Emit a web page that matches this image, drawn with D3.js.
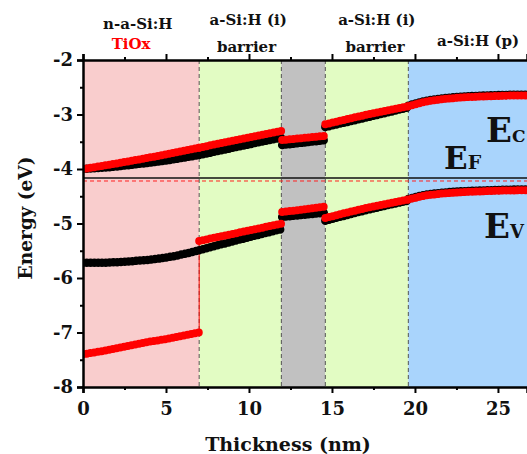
<!DOCTYPE html>
<html><head><meta charset="utf-8">
<script src="https://cdn.jsdelivr.net/npm/d3@7"></script>
<style>
body{margin:0;background:#fff}
svg{display:block}
text{font-family:"DejaVu Serif",serif;font-weight:bold}
</style>
</head><body>
<svg id="c" width="527" height="454"></svg>
<script>
// ---------- data ----------
const xTicks = [0, 5, 10, 15, 20, 25];
const yTicks = [-2, -3, -4, -5, -6, -7, -8];
const regionBounds = [0, 7, 11.95, 14.6, 19.6, 26.8];
const regionColors = ["#f9cdcd", "#e2fcc3", "#c1c1c1", "#e2fcc3", "#a9d4fc"];
const topLabels = [
  {text: "n-a-Si:H", x: 3.3, line: 0, color: "#111"},
  {text: "TiOx", x: 2.9, line: 1, color: "#ff0000"},
  {text: "a-Si:H (i)", x: 9.95, line: 2, color: "#111"},
  {text: "barrier", x: 9.85, line: 3, color: "#111"},
  {text: "a-Si:H (i)", x: 17.7, line: 2, color: "#111"},
  {text: "barrier", x: 17.6, line: 3, color: "#111"},
  {text: "a-Si:H (p)", x: 23.8, line: 4, color: "#111"}
];
const fermiBlack = -4.165;
const fermiRed = -4.22;

// Conduction band, black (one array per layer)
const ecBlack = [
  [[0,-4.0],[1,-3.98],[2,-3.955],[3,-3.92],[4,-3.885],[5,-3.845],[6,-3.795],[7,-3.745]],
  [[7,-3.745],[9.5,-3.58],[12,-3.42]],
  [[12,-3.56],[14.6,-3.47]],
  [[14.6,-3.23],[17,-3.06],[19.6,-2.87]],
  [[19.6,-2.84],[20.5,-2.76],[21.5,-2.71],[22.5,-2.68],[24,-2.655],[25.5,-2.64],[26.8,-2.635]]
];
// Conduction band, red
const ecRed = [
  [[0,-4.0],[1,-3.95],[2,-3.9],[3,-3.845],[4,-3.79],[5,-3.73],[6,-3.67],[7,-3.61]],
  [[7,-3.61],[9.5,-3.45],[12,-3.3]],
  [[12,-3.47],[14.6,-3.39]],
  [[14.6,-3.18],[17,-3.01],[19.6,-2.85]],
  [[19.6,-2.85],[20.5,-2.775],[21.5,-2.725],[22.5,-2.695],[24,-2.67],[25.5,-2.655],[26.8,-2.65]]
];
// Valence band, black
const evBlack = [
  [[0,-5.72],[1,-5.72],[2,-5.71],[3,-5.69],[4,-5.665],[5,-5.625],[6,-5.565],[7,-5.49]],
  [[7,-5.49],[9.5,-5.29],[12,-5.1]],
  [[12,-4.88],[14.6,-4.8]],
  [[14.6,-4.95],[17,-4.76],[19.6,-4.58]],
  [[19.6,-4.55],[20.5,-4.48],[21.5,-4.44],[22.5,-4.415],[24,-4.395],[25.5,-4.38],[26.8,-4.375]]
];
// Valence band, red
const evRed = [
  [[0,-7.4],[1,-7.35],[2,-7.29],[3,-7.23],[4,-7.17],[5,-7.12],[6,-7.06],[7,-7.0]],
  [[7,-5.32],[9.5,-5.16],[12,-5.0]],
  [[12,-4.79],[14.6,-4.69]],
  [[14.6,-4.9],[17,-4.72],[19.6,-4.56]],
  [[19.6,-4.56],[20.5,-4.495],[21.5,-4.455],[22.5,-4.43],[24,-4.41],[25.5,-4.395],[26.8,-4.39]]
];
// red vertical jump at the TiOx interface
const evRedJump = [[7,-7.0],[7,-5.32]];

// ---------- drawing ----------
const svg = d3.select("#c");
const L = 83, R = 527, T = 60, B = 387;
const x = d3.scaleLinear().domain([0, 26.75]).range([L, R]);
const y = d3.scaleLinear().domain([-8, -2]).range([B, T]);

svg.append("defs").append("clipPath").attr("id","clip")
  .append("rect").attr("x",L).attr("y",T).attr("width",R-L).attr("height",B-T);

const g = svg.append("g").attr("clip-path","url(#clip)");
regionColors.forEach((c,i)=>{
  g.append("rect")
    .attr("x", x(regionBounds[i])).attr("y", T)
    .attr("width", x(regionBounds[i+1]) - x(regionBounds[i]))
    .attr("height", B - T).attr("fill", c);
});
regionBounds.slice(1,5).forEach(b=>{
  g.append("line").attr("x1",x(b)).attr("x2",x(b)).attr("y1",T).attr("y2",B)
    .attr("stroke","#444").attr("stroke-width",0.9).attr("stroke-dasharray","4,3");
});

g.append("line").attr("x1",L).attr("x2",R).attr("y1",y(fermiBlack)).attr("y2",y(fermiBlack))
  .attr("stroke","#111").attr("stroke-width",1.6);
g.append("line").attr("x1",L).attr("x2",R).attr("y1",y(fermiRed)).attr("y2",y(fermiRed))
  .attr("stroke","#ff2020").attr("stroke-width",1).attr("stroke-dasharray","4,3");

const line = d3.line().x(d=>x(d[0])).y(d=>y(d[1])).curve(d3.curveMonotoneX);

function drawSeries(segs, color, w){
  segs.forEach(s=>{
    g.append("path").attr("d", line(s)).attr("fill","none")
      .attr("stroke", color).attr("stroke-width", w)
      .attr("stroke-linecap","round").attr("stroke-dasharray","0,3.8");
  });
}
g.append("path").attr("d", d3.line().x(d=>x(d[0])).y(d=>y(d[1]))(evRedJump))
  .attr("stroke","#ff0000").attr("stroke-width",1).attr("fill","none");

drawSeries(ecBlack, "#000", 8.5);
drawSeries(evBlack, "#000", 8.5);
drawSeries(ecRed, "#ff0000", 8);
drawSeries(evRed, "#ff0000", 8);

// axes
const minorX = d3.range(0, 27, 2.5).filter(v=>v%5!==0);
const minorY = d3.range(-8, -1.9, 0.5).filter(v=>v%1!==0);

const axB = svg.append("g").attr("transform",`translate(0,${B})`)
  .call(d3.axisBottom(x).tickValues(xTicks).tickSize(6).tickFormat(d3.format("d")));
svg.append("g").attr("transform",`translate(0,${B})`)
  .call(d3.axisBottom(x).tickValues(minorX).tickSize(3).tickFormat(""))
  .call(a=>a.select(".domain").remove());
svg.append("g").attr("transform",`translate(0,${T})`)
  .call(d3.axisTop(x).tickValues(xTicks).tickSize(6).tickFormat(""));
svg.append("g").attr("transform",`translate(0,${T})`)
  .call(d3.axisTop(x).tickValues(minorX).tickSize(3).tickFormat(""))
  .call(a=>a.select(".domain").remove());
const axL = svg.append("g").attr("transform",`translate(${L},0)`)
  .call(d3.axisLeft(y).tickValues(yTicks).tickSize(6).tickFormat(d3.format("d")));
svg.append("g").attr("transform",`translate(${L},0)`)
  .call(d3.axisLeft(y).tickValues(minorY).tickSize(3).tickFormat(""))
  .call(a=>a.select(".domain").remove());

svg.selectAll(".domain").attr("stroke","#000").attr("stroke-width",2.5);
svg.selectAll(".tick line").attr("stroke","#000").attr("stroke-width",2);
axB.selectAll(".tick text").attr("font-size",18).attr("fill","#111").attr("dy","1.05em")
  .attr("font-family","DejaVu Serif").attr("font-weight","bold");
axL.selectAll(".tick text").attr("font-size",18).attr("fill","#111").attr("x",-10)
  .attr("font-family","DejaVu Serif").attr("font-weight","bold");
svg.selectAll(".tick text").text(function(){ return this.textContent.replace("−","-"); });

// axis titles
svg.append("text").attr("x", 288).attr("y", 451).attr("text-anchor","middle")
  .attr("font-size",19).attr("fill","#111").text("Thickness (nm)");
svg.append("text").attr("transform","translate(32,218) rotate(-90)").attr("text-anchor","middle")
  .attr("font-size",18.5).attr("fill","#111").text("Energy (eV)");

// top labels: baseline per text row
const rowY = [29, 49, 25, 52, 46];
topLabels.forEach(t=>{
  svg.append("text").attr("x", x(t.x)).attr("y", rowY[t.line]).attr("text-anchor","middle")
    .attr("font-size",15).attr("fill",t.color).text(t.text);
});

// band labels
function bandLabel(main, sub, px, py, fs, sfs){
  const t = svg.append("text").attr("x",px).attr("y",py).attr("font-size",fs).attr("fill","#111")
    .attr("font-family","Liberation Serif");
  t.append("tspan").text(main);
  t.append("tspan").attr("font-size",sfs).text(sub);
}
bandLabel("E","C", 486, 142, 34, 17);
bandLabel("E","F", 444, 169, 31, 19);
bandLabel("E","V", 484, 238, 34, 18);
</script>
</body></html>
